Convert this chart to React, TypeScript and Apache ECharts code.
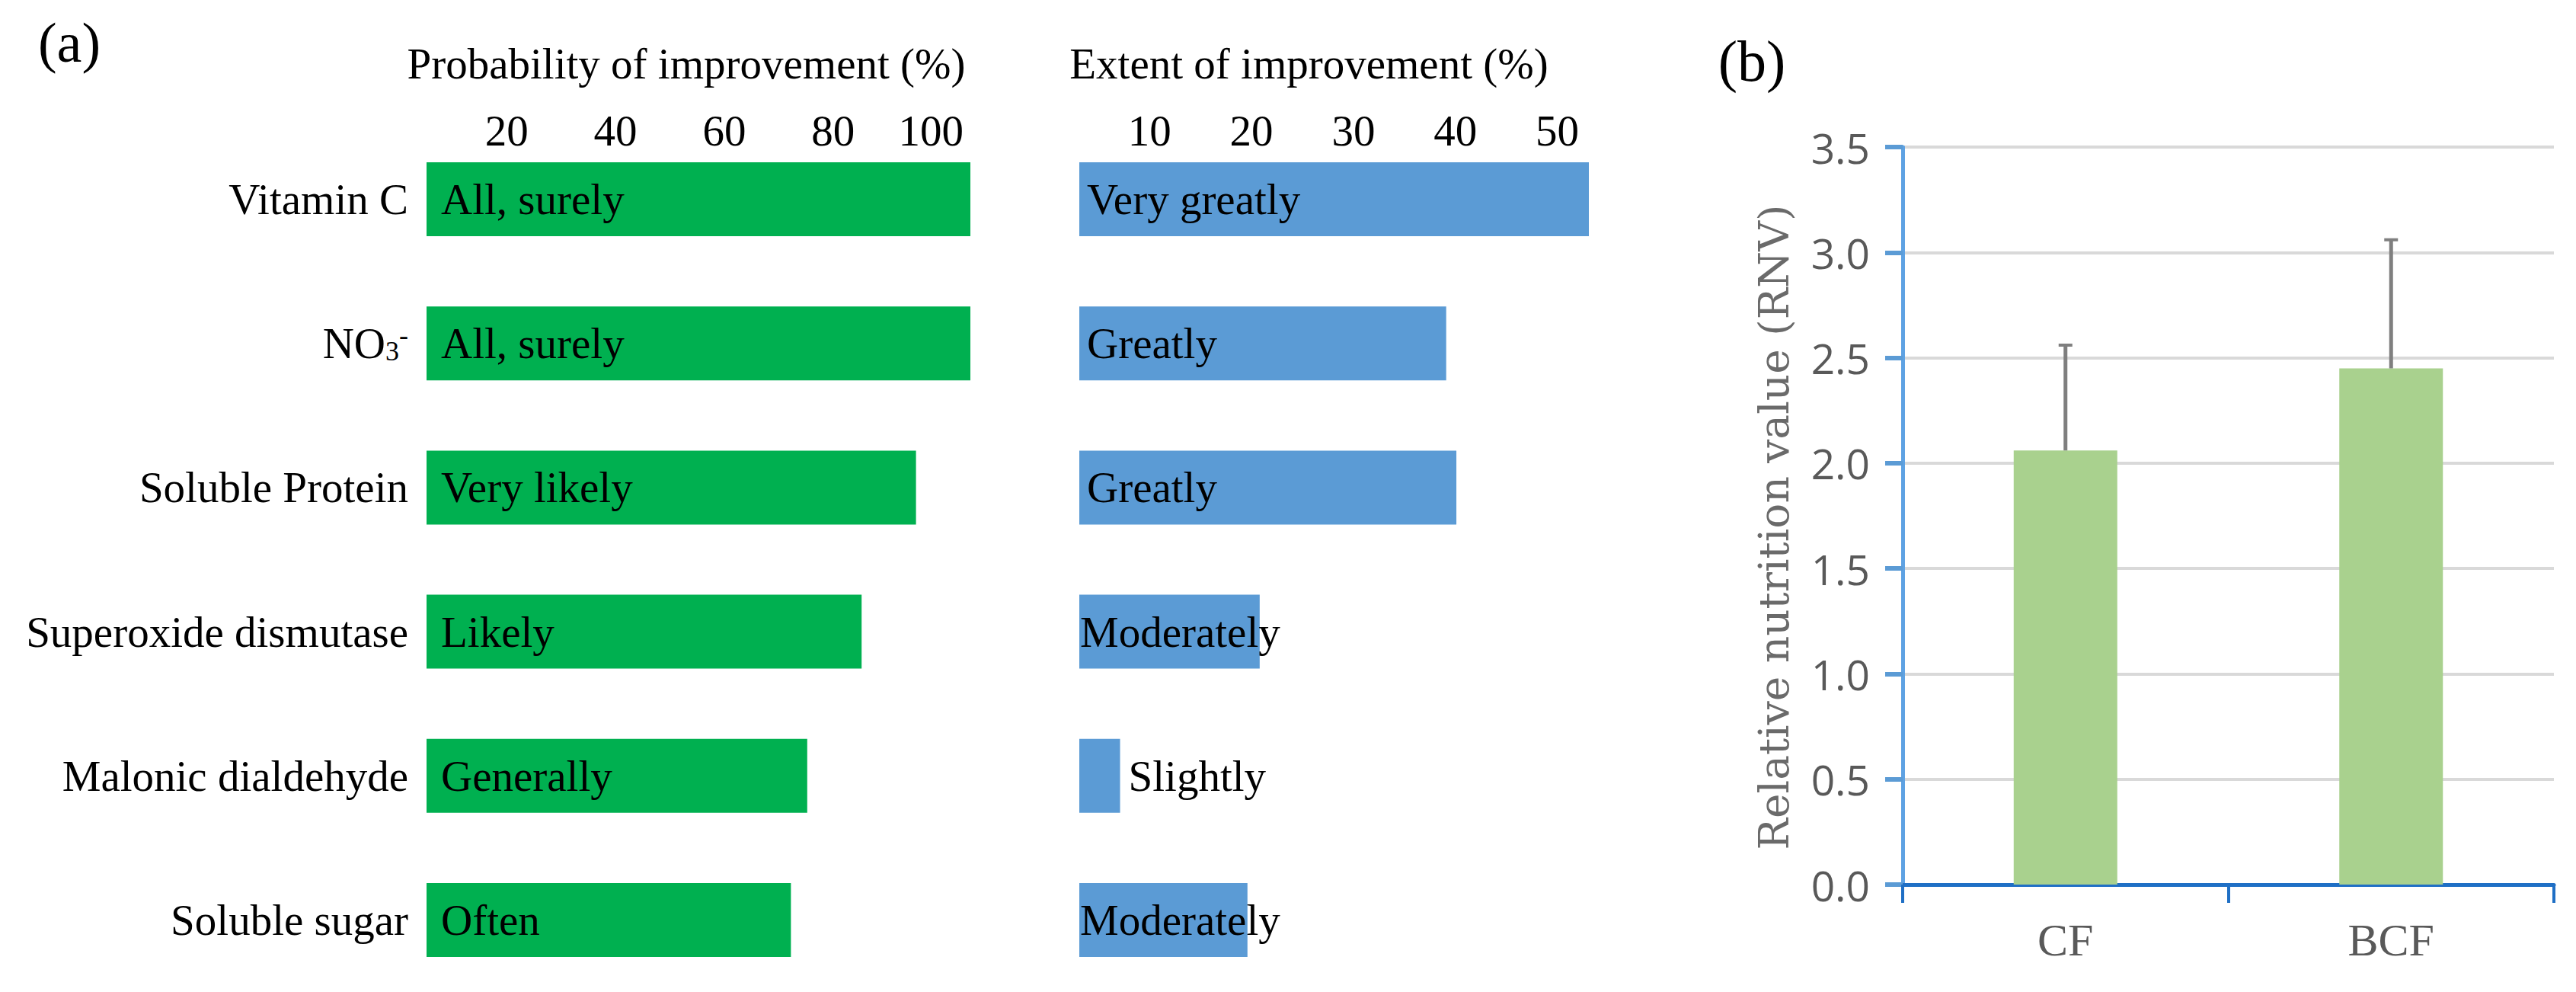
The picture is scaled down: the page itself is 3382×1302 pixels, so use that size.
import React, { useEffect, useRef } from "react";
import * as echarts from "echarts";

const probCategories = ["Vitamin C", "NO3-", "Soluble Protein", "Superoxide dismutase", "Malonic dialdehyde", "Soluble sugar"];
const probValues = [100, 100, 90, 80, 70, 67];
const probLabels = ["All, surely", "All, surely", "Very likely", "Likely", "Generally", "Often"];
const extentValues = [50, 36, 37, 17.7, 4, 16.5];
const extentLabels = ["Very greatly", "Greatly", "Greatly", "Moderately", "Slightly", "Moderately"];
const rnvCategories = ["CF", "BCF"];
const rnvMeans = [2.06, 2.45];
const rnvErrors = [0.5, 0.61];

const SERIF = '"Liberation Serif", "Times New Roman", serif';

export default function App() {
  const ref = useRef<HTMLDivElement>(null);
  useEffect(() => {
    document.body.style.margin = "0";
    const chart = echarts.init(ref.current!, null, { renderer: "svg" });
    const blueData = extentValues.map((v, i) => {
      if (extentLabels[i] === "Slightly") return { value: v, label: { position: "right", distance: 11 } };
      if (extentLabels[i] === "Moderately") return { value: v, label: { distance: 1 } };
      return { value: v };
    });
    const option: any = {
      animation: false,
      backgroundColor: "#ffffff",
      graphic: [
        { type: "text", x: 91, y: 56, style: { text: "(a)", fontFamily: SERIF, fontSize: 74, fill: "#000", align: "center", verticalAlign: "middle" } },
        { type: "text", x: 2300, y: 80, style: { text: "(b)", fontFamily: SERIF, fontSize: 76, fill: "#000", align: "center", verticalAlign: "middle" } },
      ],
      grid: [
        { left: 560, top: 167, width: 714, height: 1156 },
        { left: 1417, top: 167, width: 669, height: 1156 },
        { left: 2498, top: 193, right: 29, height: 968 },
      ],
      xAxis: [
        {
          gridIndex: 0, type: "value", position: "top", min: 0, max: 100, interval: 20,
          name: "Probability of improvement (%)", nameLocation: "middle", nameGap: 84,
          nameTextStyle: { fontFamily: SERIF, fontSize: 57, color: "#000", verticalAlign: "middle", padding: [0, 32, 0, 0] },
          axisLine: { show: false }, axisTick: { show: false }, splitLine: { show: false },
          axisLabel: { showMinLabel: false, fontFamily: SERIF, fontSize: 57, color: "#000", align: "right", verticalAlign: "middle", margin: -4, padding: [0, 9, 0, 0] },
        },
        {
          gridIndex: 1, type: "value", position: "top", min: 0, max: 50, interval: 10,
          name: "Extent of improvement (%)", nameLocation: "middle", nameGap: 84,
          nameTextStyle: { fontFamily: SERIF, fontSize: 57, color: "#000", verticalAlign: "middle", padding: [0, 66, 0, 0] },
          axisLine: { show: false }, axisTick: { show: false }, splitLine: { show: false },
          axisLabel: { showMinLabel: false, fontFamily: SERIF, fontSize: 57, color: "#000", align: "right", verticalAlign: "middle", margin: -4, padding: [0, 13, 0, 0] },
        },
        {
          gridIndex: 2, type: "category", data: rnvCategories,
          axisLine: { show: true, lineStyle: { color: "#1f6fc5", width: 5 } },
          axisTick: { show: true, length: 24, lineStyle: { color: "#1f6fc5", width: 4 } },
          axisLabel: { fontFamily: SERIF, fontSize: 60, color: "#595959", margin: 43 },
          splitLine: { show: false },
        },
      ],
      yAxis: [
        {
          gridIndex: 0, type: "category", inverse: true, data: probCategories,
          axisLine: { show: false }, axisTick: { show: false },
          axisLabel: {
            margin: 24, fontFamily: SERIF, fontSize: 57, color: "#000",
            formatter: (v: string) => (v === "NO3-" ? "{n|NO}{sub|3}{sup|-}" : v),
            rich: {
              n: { fontFamily: SERIF, fontSize: 57, color: "#000", lineHeight: 57 },
              sub: { fontFamily: SERIF, fontSize: 36, color: "#000", lineHeight: 20, verticalAlign: "bottom" },
              sup: { fontFamily: SERIF, fontSize: 36, color: "#000", lineHeight: 45, verticalAlign: "top" },
            },
          },
        },
        {
          gridIndex: 1, type: "category", inverse: true, data: probCategories,
          axisLine: { show: false }, axisTick: { show: false }, axisLabel: { show: false },
        },
        {
          gridIndex: 2, type: "value", min: 0, max: 3.5, interval: 0.5,
          name: "Relative nutrition value (RNV)", nameLocation: "middle", nameGap: 142,
          nameTextStyle: { fontFamily: '"DejaVu Serif", serif', fontSize: 55, color: "#6a6a6a", padding: [0, 30, 0, 0] },
          axisLine: { show: true, lineStyle: { color: "#5ea2e3", width: 5 } },
          axisTick: { show: true, length: 23, lineStyle: { color: "#5b9bd5", width: 6 } },
          axisLabel: { margin: 43, fontFamily: '"Open Sans", sans-serif', fontSize: 55, color: "#595959", formatter: (v: number) => v.toFixed(1) },
          splitLine: { show: true, lineStyle: { color: "#d9d9d9", width: 4 } },
        },
      ],
      series: [
        {
          type: "bar", xAxisIndex: 0, yAxisIndex: 0, data: probValues, barWidth: 97,
          itemStyle: { color: "#00b050" },
          label: { show: true, position: "insideLeft", distance: 19, fontFamily: SERIF, fontSize: 57, color: "#000", formatter: (p: any) => probLabels[p.dataIndex] },
        },
        {
          type: "bar", xAxisIndex: 1, yAxisIndex: 1, data: blueData, barWidth: 97,
          itemStyle: { color: "#5b9bd5" },
          label: { show: true, position: "insideLeft", distance: 10, fontFamily: SERIF, fontSize: 57, color: "#000", formatter: (p: any) => extentLabels[p.dataIndex] },
        },
        {
          type: "bar", xAxisIndex: 2, yAxisIndex: 2, data: rnvMeans, barWidth: 136,
          itemStyle: { color: "#a9d18e" }, z: 2,
        },
        {
          type: "custom", xAxisIndex: 2, yAxisIndex: 2, z: 3,
          data: rnvMeans.map((m, i) => [i, m, m + rnvErrors[i]]),
          encode: { x: 0, y: [1, 2] },
          renderItem: (params: any, api: any) => {
            const idx = api.value(0);
            const base = api.coord([idx, api.value(1)]);
            const top = api.coord([idx, api.value(2)]);
            return {
              type: "group",
              children: [
                { type: "line", shape: { x1: base[0], y1: base[1], x2: top[0], y2: top[1] }, style: { stroke: "#7f7f7f", lineWidth: 5 } },
                { type: "line", shape: { x1: top[0] - 9, y1: top[1], x2: top[0] + 9, y2: top[1] }, style: { stroke: "#7f7f7f", lineWidth: 4 } },
              ],
            };
          },
        },
      ],
    };
    chart.setOption(option);
    return () => chart.dispose();
  }, []);
  return <div ref={ref} style={{ position: "absolute", left: 0, top: 0, width: 3382, height: 1302 }} />;
}
